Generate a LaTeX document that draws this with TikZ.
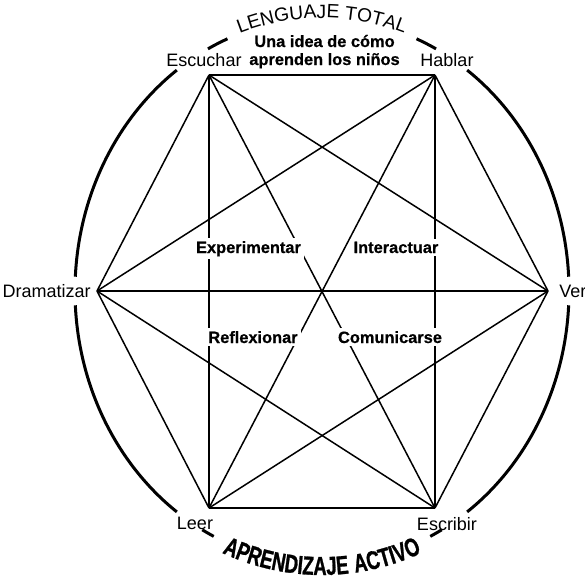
\documentclass[tikz,border=0pt]{standalone}
\usepackage{fontspec}
\setmainfont{Liberation Sans}
\newfontfamily\heavyfont{Liberation Sans Bold}[FakeBold=0.6]
\newfontfamily\blackfont{Liberation Sans Bold}[FakeStretch=0.71, FakeBold=1, LetterSpace=4]
\usetikzlibrary{decorations.text}

\tikzset{
  edge/.style={line width=0.75pt},
  rim/.style={line width=1.5pt},
  vlabel/.style={inner sep=0pt, font=\fontsize{9}{10}\selectfont},
  idea/.style={fill=white, inner sep=1.5pt, font=\heavyfont\fontsize{8.2}{9}\selectfont},
}

\begin{document}
\begin{tikzpicture}[x=0.5pt,y=0.5pt]
  \useasboundingbox (-322,-289) rectangle (263,291);
  \coordinate (escuchar) at (-113,216);
  \coordinate (hablar) at (113,216);
  \coordinate (ver) at (226,0);
  \coordinate (escribir) at (113,-217);
  \coordinate (leer) at (-113,-217);
  \coordinate (dramatizar) at (-225,0);

  \draw[edge] (escuchar) -- (hablar);
  \draw[edge] (escuchar) -- (ver);
  \draw[edge] (escuchar) -- (escribir);
  \draw[edge] (escuchar) -- (leer);
  \draw[edge] (escuchar) -- (dramatizar);
  \draw[edge] (hablar) -- (ver);
  \draw[edge] (hablar) -- (escribir);
  \draw[edge] (hablar) -- (leer);
  \draw[edge] (hablar) -- (dramatizar);
  \draw[edge] (ver) -- (escribir);
  \draw[edge] (ver) -- (leer);
  \draw[edge] (ver) -- (dramatizar);
  \draw[edge] (escribir) -- (leer);
  \draw[edge] (escribir) -- (dramatizar);
  \draw[edge] (leer) -- (dramatizar);

  \draw[rim] (112.5:247 and 273) arc[start angle=112.5, end angle=117.5, x radius=247, y radius=273];
  \draw[rim] (126:247 and 273) arc[start angle=126, end angle=177, x radius=247, y radius=273];
  \draw[rim] (183:247 and 273) arc[start angle=183, end angle=234, x radius=247, y radius=273];
  \draw[rim] (241:247 and 273) arc[start angle=241, end angle=244, x radius=247, y radius=273];
  \draw[rim] (296:247 and 273) arc[start angle=296, end angle=299, x radius=247, y radius=273];
  \draw[rim] (306:247 and 273) arc[start angle=306, end angle=357, x radius=247, y radius=273];
  \draw[rim] (3:247 and 273) arc[start angle=3, end angle=54, x radius=247, y radius=273];
  \draw[rim] (62.5:247 and 273) arc[start angle=62.5, end angle=67.5, x radius=247, y radius=273];

  \path[decorate, decoration={text along path, text align=center,
    text={|\fontsize{9.6}{10}\selectfont|LENGUAJE TOTAL}}]
    (112:247 and 273) arc[start angle=112, end angle=68, x radius=247, y radius=273];
  \path[decorate, decoration={text along path, text align=center,
    text={|\blackfont\fontsize{13}{14}\selectfont|APRENDIZAJE ACTIVO}}]
    (236:258 and 284) arc[start angle=236, end angle=304, x radius=258, y radius=284];

  \node[vlabel, above=4pt, xshift=-2.5pt] (escucharL) at (escuchar) {Escuchar};
  \node[vlabel, above=4pt, xshift=6pt] (hablarL) at (hablar) {Hablar};
  \node[vlabel, right=5.5pt] (verL) at (ver) {Ver};
  \node[vlabel, below=4.5pt, xshift=6pt] (escribirL) at (escribir) {Escribir};
  \node[vlabel, below=4.5pt, xshift=-7pt] (leerL) at (leer) {Leer};
  \node[vlabel, left=3pt] (dramatizarL) at (dramatizar) {Dramatizar};

  \node[align=center, anchor=base, inner sep=0pt,
    font=\heavyfont\fontsize{8.2}{9}\selectfont] (subtitle) at (2.5,226) {Una idea de cómo\\aprenden los niños};

  \node[idea, anchor=base] (experimentar) at (-73.5,38) {Experimentar};
  \node[idea, anchor=base] (interactuar) at (74,38) {Interactuar};
  \node[idea, anchor=base] (reflexionar) at (-69,-52) {Reflexionar};
  \node[idea, anchor=base] (comunicarse) at (68,-52) {Comunicarse};
\end{tikzpicture}
\end{document}
